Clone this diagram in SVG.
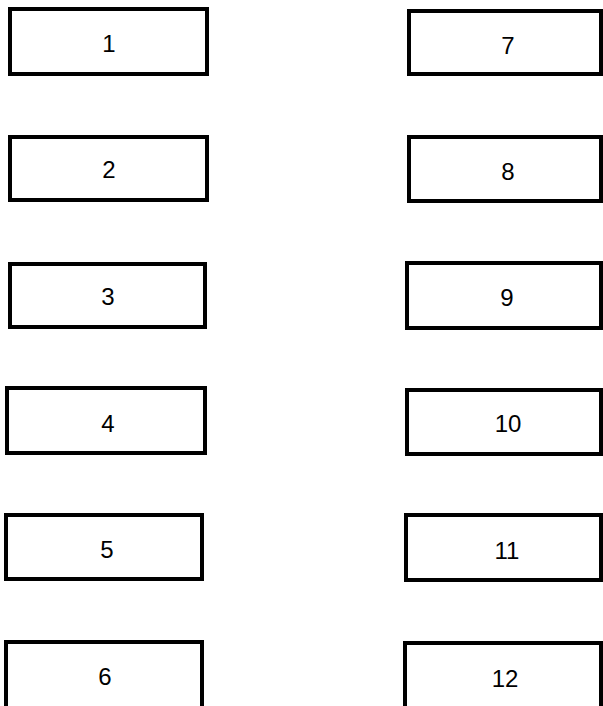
<svg xmlns="http://www.w3.org/2000/svg" width="603" height="706" viewBox="0 0 603 706">
<style>
.box{fill:#fff;stroke:#000;stroke-width:4}
.lbl{font-family:"Liberation Sans",Arial,sans-serif;font-size:24px;fill:#000;text-anchor:middle}
</style>
<rect width="603" height="706" fill="#fff"/>
<g id="connectors"/>
<g id="n1"><rect class="box" x="10" y="9" width="197" height="65"/><text class="lbl" x="109" y="52">1</text></g>
<g id="n2"><rect class="box" x="10" y="137" width="197" height="63"/><text class="lbl" x="109" y="178">2</text></g>
<g id="n3"><rect class="box" x="10" y="264" width="195" height="63"/><text class="lbl" x="108" y="305">3</text></g>
<g id="n4"><rect class="box" x="7" y="388" width="198" height="65"/><text class="lbl" x="108" y="432">4</text></g>
<g id="n5"><rect class="box" x="6" y="515" width="196" height="64"/><text class="lbl" x="107" y="558">5</text></g>
<g id="n6"><rect class="box" x="6" y="642" width="196" height="70"/><text class="lbl" x="105" y="685">6</text></g>
<g id="n7"><rect class="box" x="409" y="11" width="192" height="63"/><text class="lbl" x="508" y="54">7</text></g>
<g id="n8"><rect class="box" x="409" y="137" width="192" height="64"/><text class="lbl" x="508" y="180">8</text></g>
<g id="n9"><rect class="box" x="407" y="263" width="194" height="65"/><text class="lbl" x="507" y="306">9</text></g>
<g id="n10"><rect class="box" x="407" y="390" width="194" height="64"/><text class="lbl" x="508" y="432">10</text></g>
<g id="n11"><rect class="box" x="406" y="515" width="195" height="65"/><text class="lbl" x="507" y="559">11</text></g>
<g id="n12"><rect class="box" x="405" y="643" width="196" height="70"/><text class="lbl" x="505" y="687">12</text></g>
</svg>
